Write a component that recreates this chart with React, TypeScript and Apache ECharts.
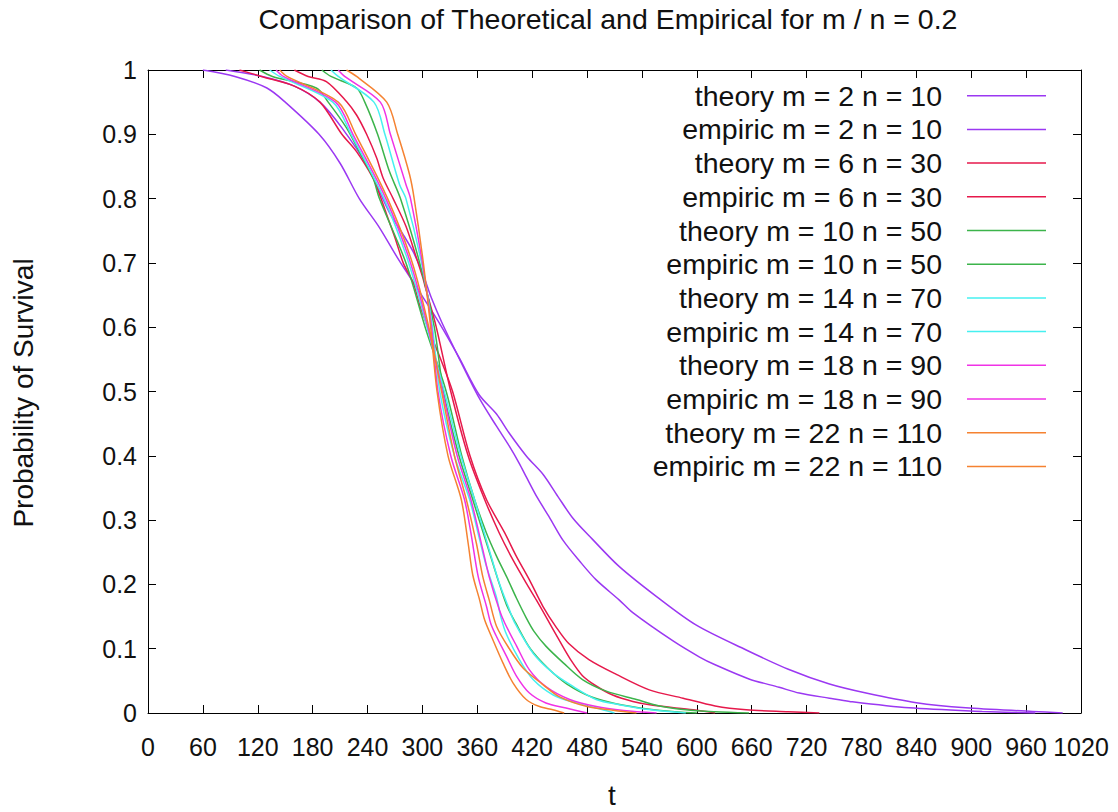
import React, { useEffect, useRef } from "react";
import * as echarts from "echarts";

// ---- data: [t, probability of survival] ----
const theoryM2: [number, number][] = [[60,1],[95,0.99],[130,0.972],[150,0.95],[187,0.9],[210,0.855],[231,0.8],[253,0.755],[274,0.705],[300,0.648],[320,0.603],[340,0.553],[362,0.495],[381,0.465],[395,0.435],[414,0.399],[432,0.371],[448,0.337],[465,0.302],[486,0.27],[515,0.228],[556,0.181],[599,0.137],[654,0.098],[700,0.068],[745,0.045],[785,0.031],[840,0.016],[894,0.008],[967,0.0025],[1000,0]];
const empiricM2: [number, number][] = [[85,1],[125,0.99],[160,0.975],[188,0.95],[212,0.91],[240,0.85],[264,0.778],[279,0.744],[290,0.717],[300,0.685],[310,0.645],[322,0.605],[340,0.552],[362,0.49],[381,0.446],[395,0.415],[406,0.388],[414,0.366],[426,0.334],[439,0.304],[454,0.268],[472,0.236],[490,0.207],[515,0.176],[530,0.156],[574,0.112],[603,0.087],[620,0.075],[657,0.053],[690,0.04],[712,0.031],[745,0.023],[767,0.018],[832,0.008],[912,0.0025],[970,0]];
const theoryM6: [number, number][] = [[100,1],[124,0.99],[160,0.975],[188,0.95],[212,0.9],[228,0.873],[246,0.832],[251,0.815],[261,0.775],[271,0.735],[279,0.7],[290,0.669],[297,0.635],[305,0.603],[320,0.55],[333,0.5],[352,0.4],[370,0.332],[390,0.28],[402.6,0.244],[417,0.207],[431.7,0.166],[446,0.134],[460,0.108],[482,0.083],[512,0.06],[548,0.036],[585,0.023],[620,0.011],[654,0.005],[700,0.002],[734,0]];
const empiricM6: [number, number][] = [[160,1],[175,0.99],[195,0.982],[217,0.951],[228,0.93],[239,0.9],[250,0.863],[257,0.832],[268,0.8],[282,0.757],[293,0.71],[300,0.679],[304,0.658],[315,0.601],[331,0.5],[350,0.4],[368,0.332],[384,0.28],[399,0.238],[413.5,0.202],[424.5,0.176],[435,0.15],[450,0.112],[462,0.083],[475,0.058],[490,0.042],[508,0.028],[530,0.018],[552,0.012],[596,0.005],[620,0]];
const theoryM10: [number, number][] = [[122,1],[136,0.99],[184,0.972],[197,0.95],[217,0.91],[231,0.873],[246,0.832],[253,0.8],[282,0.7],[303,0.6],[326,0.5],[343,0.4],[357,0.332],[370,0.28],[381,0.244],[392,0.212],[403,0.178],[413.5,0.148],[422,0.127],[435,0.104],[454,0.078],[475,0.052],[501,0.034],[534,0.021],[559,0.011],[588,0.005],[620,0.002],[657,0]];
const empiricM10: [number, number][] = [[190,1],[200,0.99],[228,0.972],[237,0.95],[251,0.9],[264,0.842],[276,0.8],[297,0.7],[313,0.6],[323,0.5],[340,0.4],[355,0.332],[371,0.26],[382,0.21],[392,0.168],[402,0.14],[418,0.1],[437,0.07],[458,0.045],[485,0.025],[520,0.012],[560,0.004],[600,0]];
const theoryM14: [number, number][] = [[133,1],[144,0.99],[202,0.95],[222,0.9],[258,0.8],[285,0.7],[305,0.6],[324,0.5],[342,0.4],[357,0.332],[373,0.254],[384,0.202],[395,0.161],[401,0.14],[421,0.093],[443,0.062],[465,0.041],[490,0.021],[515,0.013],[550,0.005],[588,0]];
const empiricM14: [number, number][] = [[200,1],[208,0.99],[247,0.95],[259,0.9],[275,0.822],[282,0.8],[299,0.7],[311,0.6],[319,0.5],[335,0.4],[351.6,0.332],[362.5,0.27],[370,0.228],[380.8,0.181],[386,0.148],[392,0.122],[406,0.083],[421,0.052],[443,0.028],[468,0.0156],[490,0.0078],[510,0]];
const theoryM18: [number, number][] = [[140,1],[148,0.99],[205,0.95],[224,0.9],[260,0.8],[287,0.7],[306,0.6],[322,0.5],[338,0.4],[353,0.332],[366,0.254],[373,0.212],[384,0.161],[390,0.14],[403,0.104],[417,0.067],[435,0.041],[461,0.021],[490,0.01],[520,0.004],[556,0]];
const empiricM18: [number, number][] = [[208,1],[215,0.99],[254,0.95],[265,0.9],[282,0.822],[287,0.8],[300,0.7],[310,0.6],[317,0.5],[331,0.4],[346,0.332],[353,0.28],[361,0.212],[370,0.166],[375,0.138],[381,0.119],[392,0.088],[403,0.057],[417,0.031],[435,0.0156],[457,0.0078],[480,0]];
const theoryM22: [number, number][] = [[144,1],[152,0.99],[208,0.95],[227,0.9],[262,0.8],[289,0.7],[307,0.6],[321,0.5],[335,0.4],[348,0.332],[359,0.264],[366,0.212],[373,0.176],[381,0.135],[395,0.1],[410,0.07],[431,0.045],[450,0.025],[480,0.01],[510,0.004],[534,0]];
const empiricM22: [number, number][] = [[217,1],[228,0.99],[261,0.95],[273,0.9],[286,0.837],[291,0.8],[301,0.7],[309,0.6],[316,0.5],[328,0.4],[342.5,0.332],[350,0.264],[355,0.215],[362.5,0.176],[368,0.145],[377,0.114],[388,0.078],[399,0.047],[413.5,0.021],[428,0.01],[442.6,0.005],[455,0]];

const seriesNames = [
  "theory m = 2 n = 10", "empiric m = 2 n = 10",
  "theory m = 6 n = 30", "empiric m = 6 n = 30",
  "theory m = 10 n = 50", "empiric m = 10 n = 50",
  "theory m = 14 n = 70", "empiric m = 14 n = 70",
  "theory m = 18 n = 90", "empiric m = 18 n = 90",
  "theory m = 22 n = 110", "empiric m = 22 n = 110",
];
const seriesData = [theoryM2, empiricM2, theoryM6, empiricM6, theoryM10, empiricM10, theoryM14, empiricM14, theoryM18, empiricM18, theoryM22, empiricM22];
const pairColors = ["#9b38f2", "#e6194b", "#3cb44b", "#46f0f0", "#f032e6", "#f58231"];

const titleText = "Comparison of Theoretical and Empirical for m / n = 0.2";
const xName = "t";
const yName = "Probability of Survival";
const xMin = 0, xMax = 1020, xStep = 60;
const yMin = 0, yMax = 1, yStep = 0.1;

const FONT = "'Liberation Sans', Arial, Helvetica, sans-serif";
const TXT = "#111";

export default function App() {
  const ref = useRef<HTMLDivElement>(null);
  useEffect(() => {
    const chart = echarts.init(ref.current!, undefined, { renderer: "svg" });
    const axisLine = { show: true, onZero: false, lineStyle: { color: "#000", width: 1 } };
    const tick = { show: true, inside: true, length: 8, lineStyle: { color: "#000", width: 1 } };
    const legendTop = 95.7, legendStep = 33.7;
    const graphic: any[] = [
      { type: "text", x: 608, y: 19, style: { text: titleText, align: "center", verticalAlign: "middle", fontSize: 28.5, fontFamily: FONT, fill: TXT } },
      { type: "text", x: 612, y: 795, style: { text: xName, align: "center", verticalAlign: "middle", fontSize: 28, fontFamily: FONT, fill: TXT } },
      { type: "text", x: 23, y: 393, rotation: Math.PI / 2, style: { text: yName, align: "center", verticalAlign: "middle", fontSize: 28, fontFamily: FONT, fill: TXT } },
    ];
    seriesNames.forEach((name, i) => {
      const y = legendTop + i * legendStep;
      graphic.push({ type: "text", x: 942, y, style: { text: name, align: "right", verticalAlign: "middle", fontSize: 28.5, fontFamily: FONT, fill: TXT } });
      graphic.push({ type: "line", shape: { x1: 967, y1: y, x2: 1046, y2: y }, style: { stroke: pairColors[Math.floor(i / 2)], lineWidth: 1.5 } });
    });
    chart.setOption({
      animation: false,
      grid: { left: 148, right: 37, top: 70, bottom: 99 },
      xAxis: [
        { type: "value", min: xMin, max: xMax, interval: xStep, position: "bottom", axisLine, axisTick: tick, splitLine: { show: false },
          axisLabel: { show: true, fontSize: 25, color: TXT, fontFamily: FONT, margin: 21, hideOverlap: false, formatter: (v: number) => String(v) } },
        { type: "value", min: xMin, max: xMax, interval: xStep, position: "top", axisLine, axisTick: tick, splitLine: { show: false }, axisLabel: { show: false } },
      ],
      yAxis: [
        { type: "value", min: yMin, max: yMax, interval: yStep, position: "left", axisLine, axisTick: tick, splitLine: { show: false },
          axisLabel: { show: true, fontSize: 25, color: TXT, fontFamily: FONT, margin: 11, formatter: (v: number) => String(Math.round(v * 10) / 10) } },
        { type: "value", min: yMin, max: yMax, interval: yStep, position: "right", axisLine, axisTick: tick, splitLine: { show: false }, axisLabel: { show: false } },
      ],
      graphic,
      series: seriesData.map((d, i) => ({
        name: seriesNames[i],
        type: "line",
        xAxisIndex: 0,
        yAxisIndex: 0,
        data: d,
        showSymbol: false,
        symbol: "none",
        smooth: 0.3,
        lineStyle: { color: pairColors[Math.floor(i / 2)], width: 1.5 },
        emphasis: { disabled: true },
      })),
    });
    return () => chart.dispose();
  }, []);
  return <div ref={ref} style={{ position: "fixed", left: 0, top: 0, width: 1118, height: 812, background: "#fff" }} />;
}
